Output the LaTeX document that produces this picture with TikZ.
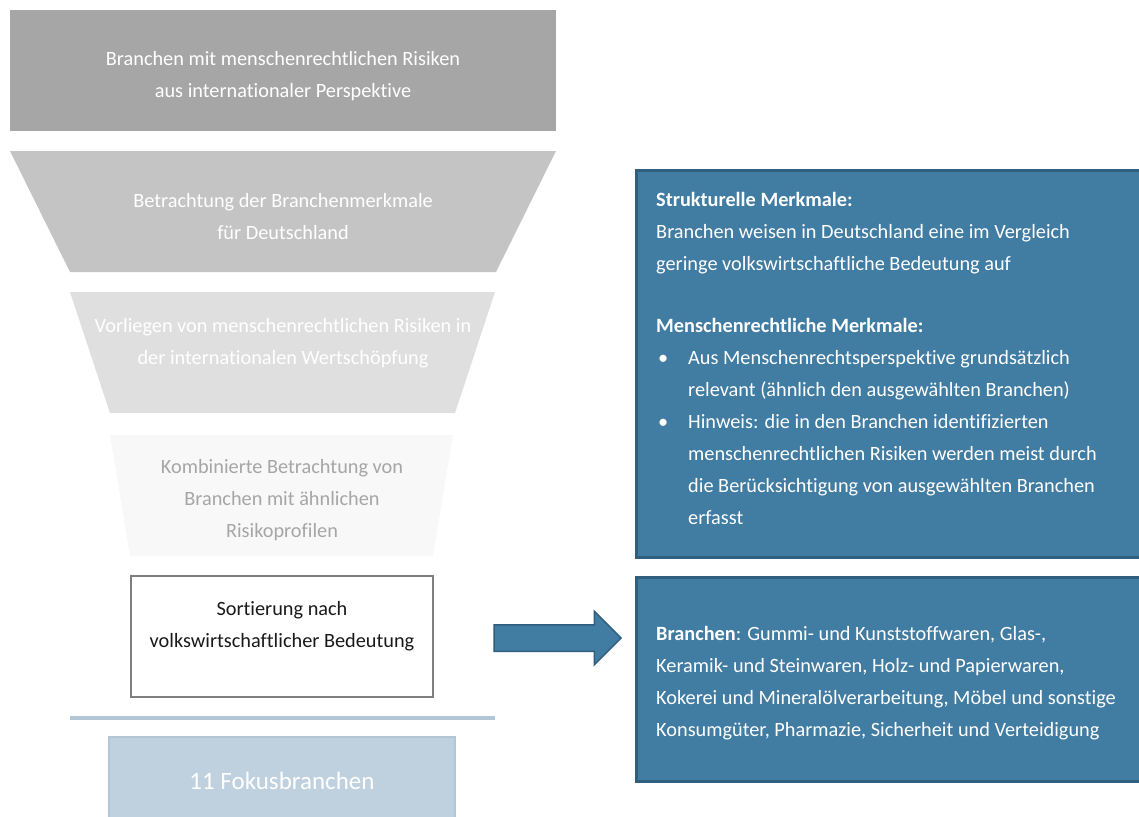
\documentclass[tikz,border=0pt]{standalone}
\usepackage{fontspec}
\setmainfont{Carlito}[Ligatures=NoCommon]
\usepackage{xcolor}
\usepackage{tikz}
\usetikzlibrary{shapes.arrows}
\definecolor{cstageA}{HTML}{A6A6A6}
\definecolor{cstageB}{HTML}{C4C4C4}
\definecolor{cstageC}{HTML}{DFDFDF}
\definecolor{cstageD}{HTML}{F8F8F8}
\definecolor{cframe}{HTML}{7F7F7F}
\definecolor{cblue}{HTML}{417CA2}
\definecolor{cbluedark}{HTML}{2F5F7F}
\definecolor{cfokus}{HTML}{BFD1DE}
\definecolor{cfokusline}{HTML}{B3C6D4}
\newcommand{\bulletitem}{\makebox[32pt][l]{\hspace{2pt}\textbullet}}
\newcommand{\bulletcont}{\hspace*{32pt}}

\begin{document}
\begin{tikzpicture}[x=1pt,y=-1pt,
  stagetext/.style={align=center,font=\fontsize{20.3}{32}\selectfont,text=white,inner sep=0pt},
  infotext/.style={align=left,anchor=north west,font=\fontsize{20.3}{32}\selectfont,text=white,inner sep=0pt},
  infobox/.style={fill=cblue,draw=cbluedark,line width=3pt}]
  \useasboundingbox (0,0) rectangle (1139,816);
  \clip (0,0) rectangle (1139,816);
  % funnel stages
  \fill[cstageA] (10,10) rectangle (556,131);
  \foreach \ya/\yb/\xa/\xb/\xc/\xd/\c in {151/272/10/556/70/496/cstageB,
      292/413/70/495/110/455/cstageC, 435/556/110/453/130/433/cstageD}
    \fill[\c] (\xa,\ya) -- (\xb,\ya) -- (\xd,\yb) -- (\xc,\yb) -- cycle;
  \node[stagetext] (intl) at (283,76) {Branchen mit menschenrechtlichen Risiken\\aus internationaler Perspektive};
  \node[stagetext] (merkmale) at (283,217) {Betrachtung der Branchenmerkmale\\für Deutschland};
  \node[stagetext] (risiken) at (283,343) {Vorliegen von menschenrechtlichen Risiken in\\der internationalen Wertschöpfung};
  \node[stagetext,text=cstageA] (profile) at (282,500) {Kombinierte Betrachtung von\\Branchen mit ähnlichen\\Risikoprofilen};
  % sorting step
  \draw[cframe,line width=1.2pt] (131,576) rectangle (433,697);
  \node[stagetext,text=black!90] (sortierung) at (282,626) {Sortierung nach\\volkswirtschaftlicher Bedeutung};
  \draw[cfokusline,line width=4pt] (70,718) -- (495,718);
  \fill[cfokus] (109,737) rectangle (455,830);
  \draw[cfokusline,line width=1.5pt] (109,830) |- (455,737) -- (455,830);
  \node[stagetext,font=\fontsize{25}{28}\selectfont] (fokus) at (282,781) {11 Fokusbranchen};
  % arrow
  \node[single arrow,fill=cblue,draw=cbluedark,line width=1.5pt,inner xsep=0pt,inner ysep=12.5pt,
    minimum height=127pt,single arrow head extend=13.5pt] (pfeil) at (551,638) {};
  % right side
  \draw[infobox] (636,170) rectangle (1160,557);
  \node[infotext] (merkmaltext) at (656,192) {\textbf{Strukturelle Merkmale:}\\
    Branchen weisen in Deutschland eine im Vergleich\\
    geringe volkswirtschaftliche Bedeutung auf\\[30pt]
    \textbf{Menschenrechtliche Merkmale:}\\
    \bulletitem Aus Menschenrechtsperspektive grundsätzlich\\
    \bulletcont relevant (ähnlich den ausgewählten Branchen)\\
    \bulletitem Hinweis: die in den Branchen identifizierten\\
    \bulletcont menschenrechtlichen Risiken werden meist durch\\
    \bulletcont die Berücksichtigung von ausgewählten Branchen\\
    \bulletcont erfasst};
  \draw[infobox] (636,577) rectangle (1160,781);
  \node[infotext] (branchentext) at (656,626) {\textbf{Branchen}: Gummi- und Kunststoffwaren, Glas-,\\
    Keramik- und Steinwaren, Holz- und Papierwaren,\\
    Kokerei und Mineralölverarbeitung, Möbel und sonstige\\
    Konsumgüter, Pharmazie, Sicherheit und Verteidigung};
\end{tikzpicture}
\end{document}
